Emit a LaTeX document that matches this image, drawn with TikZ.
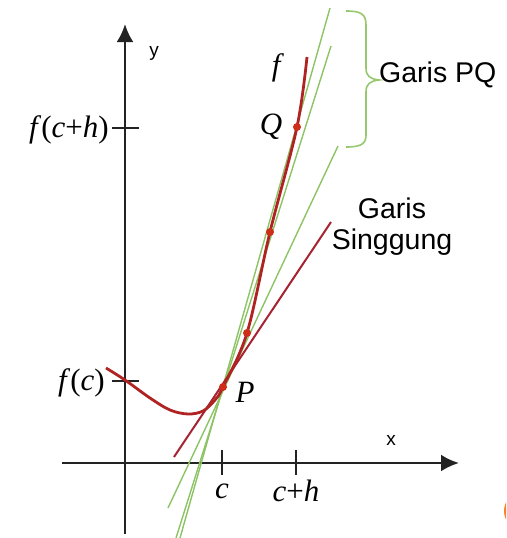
\documentclass[tikz,border=0pt]{standalone}
\usepackage{fontspec}
\setmainfont{Liberation Serif}
\setsansfont{Liberation Sans}
\usetikzlibrary{arrows.meta}
\definecolor{axisc}{RGB}{35,35,35}
\definecolor{curvec}{RGB}{175,35,35}
\definecolor{tanc}{RGB}{165,35,50}
\definecolor{dotc}{RGB}{205,45,25}
\definecolor{greenc}{RGB}{140,195,100}
\definecolor{bracec}{RGB}{150,200,110}
\definecolor{orangec}{RGB}{245,130,40}
\tikzset{
  axisline/.style={draw=axisc,line width=2.6pt,-{Latex[length=18pt,width=17pt]}},
  tick/.style={draw=axisc,line width=2.2pt},
  secant/.style={draw=greenc,line width=1.4pt},
  tangentline/.style={draw=tanc,line width=2pt},
  fcurve/.style={draw=curvec,line width=2.8pt},
  pt/.style={circle,fill=dotc,inner sep=0pt,minimum size=8pt},
  mlab/.style={font=\fontsize{31}{31}\selectfont,inner sep=0pt},
  slab/.style={font=\sffamily\fontsize{28.5}{31}\selectfont,inner sep=0pt,align=center},
  axlab/.style={font=\sffamily\fontsize{19}{19}\selectfont,inner sep=0pt}
}
\begin{document}
\begin{tikzpicture}[x=1pt,y=-1pt]
\useasboundingbox (0,0) rectangle (506,538);
\clip (0,0) rectangle (506,538);
% orange corner mark
\fill[orangec] (523,511) circle (19);
% axes
\coordinate (xs) at (62,463);
\coordinate (xe) at (459,463);
\coordinate (ys) at (125,534);
\coordinate (ye) at (125,24);
\draw[axisline] (xs) -- (xe);
\draw[axisline] (ys) -- (ye);
% ticks
\coordinate (t1a) at (112,128); \coordinate (t1b) at (139,128);
\coordinate (t2a) at (112,381); \coordinate (t2b) at (139,381);
\coordinate (t3a) at (222,450); \coordinate (t3b) at (222,475);
\coordinate (t4a) at (296,450); \coordinate (t4b) at (296,475);
\draw[tick] (t1a) -- (t1b);
\draw[tick] (t2a) -- (t2b);
\draw[tick] (t3a) -- (t3b);
\draw[tick] (t4a) -- (t4b);
% secant lines (green)
\coordinate (g1a) at (180,538); \coordinate (g1b) at (330,8);
\coordinate (g2a) at (176,538); \coordinate (g2b) at (331,46);
\coordinate (g3a) at (168,508); \coordinate (g3b) at (338,146);
\draw[secant] (g1a) -- (g1b);
\draw[secant] (g2a) -- (g2b);
\draw[secant] (g3a) -- (g3b);
% tangent line
\coordinate (ta) at (174,457); \coordinate (tb) at (331,222);
\draw[tangentline] (ta) -- (tb);
% curve f
\draw[fcurve] plot[smooth,tension=0.55] coordinates {(106,368) (125,380) (150,398) (170,410) (188,414) (203,411) (215,400) (223,387) (247,333) (270,232) (297,127) (307,57)};
% points
\node[pt] (P) at (223,387) {};
\node[pt] (R1) at (247,333) {};
\node[pt] (R2) at (270,232) {};
\node[pt] (Q) at (297,127) {};
% brace
\draw[draw=bracec,line width=1.6pt] (346,11) .. controls (361,11) and (366,14) .. (366,25) -- (366,68) .. controls (366,76) and (370,79) .. (379,80) .. controls (370,81) and (366,84) .. (366,92) -- (366,135) .. controls (366,144) and (361,147) .. (346,147);
% labels
\node[mlab,anchor=east] (lfch) at (109,130) {\textit{f}(\textit{c}+\textit{h})};
\node[mlab,anchor=east] (lfc) at (105,383) {\textit{f}(\textit{c})};
\node[mlab] (lP) at (245,392) {\textit{P}};
\node[mlab] (lQ) at (271,127) {\textit{Q}};
\node[mlab] (lf) at (278,68) {\textit{f}};
\node[mlab] (lc) at (222,491) {\textit{c}};
\node[mlab] (lch) at (296,491) {\textit{c}+\textit{h}};
\node[axlab] (lx) at (391,440) {x};
\node[axlab] (ly) at (154,53) {y};
\node[slab,anchor=west] (lpq) at (379,75) {Garis PQ};
\node[slab] (lsg) at (392,227) {Garis\\Singgung};
\end{tikzpicture}
\end{document}
